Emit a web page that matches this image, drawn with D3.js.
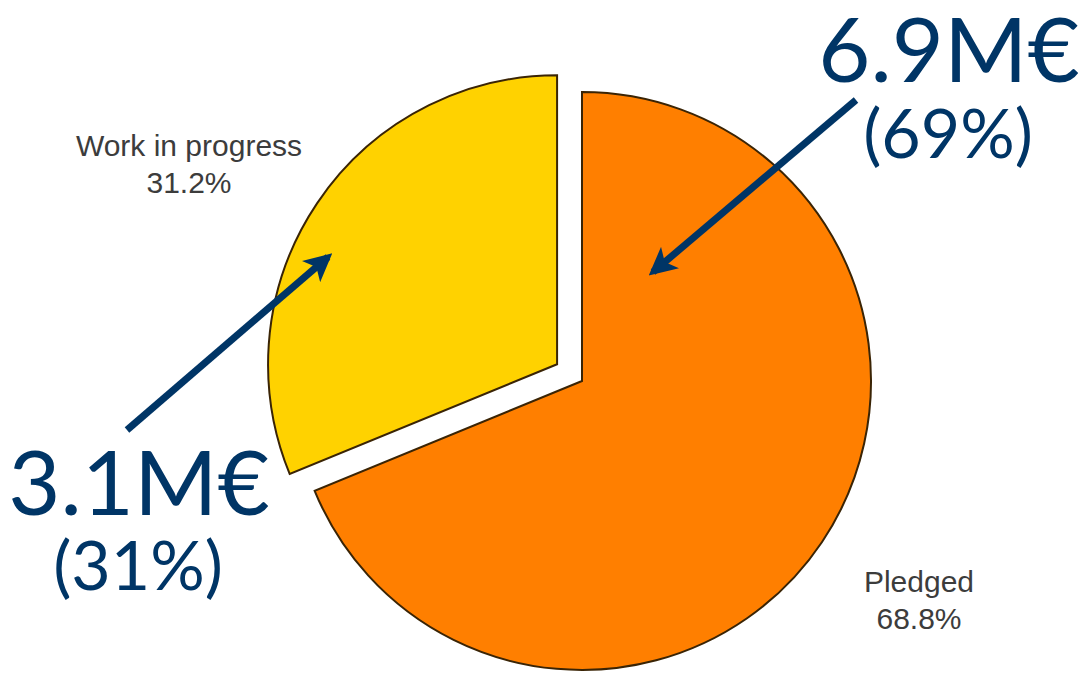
<!DOCTYPE html>
<html>
<head>
<meta charset="utf-8">
<script src="https://cdn.jsdelivr.net/npm/d3@7"></script>
<style>
  body { margin: 0; background: #fff; }
</style>
</head>
<body>
<script>
var categories = ['Pledged', 'Work in progress'],
    values = [68.8, 31.2],
    pctLabels = ['68.8%', '31.2%'],
    amounts = ['6.9M€', '3.1M€'],
    rounded = ['(69%)', '(31%)'],
    colors = ['#ff7f00', '#ffd200'],
    explode = [0, 30];

var width = 1078,
    height = 674,
    cx = 582,
    cy = 381,
    radius = 289;

var svg = d3.select('body').append('svg')
    .attr('width', width)
    .attr('height', height);

var pie = d3.pie().sort(null).value(function(d) { return d; });
var arcs = pie(values);
var arc = d3.arc().innerRadius(0).outerRadius(radius);

var g = svg.append('g')
    .attr('transform', 'translate(' + cx + ',' + cy + ')');

g.selectAll('path')
    .data(arcs)
    .enter()
    .append('path')
    .attr('d', arc)
    .attr('fill', function(d, i) { return colors[i]; })
    .attr('stroke', '#3a2405')
    .attr('stroke-width', 2)
    .attr('transform', function(d, i) {
        var a = (d.startAngle + d.endAngle) / 2;
        return 'translate(' + (Math.sin(a) * explode[i]) + ',' + (-Math.cos(a) * explode[i]) + ')';
    });

// small slice labels
var labelPos = [[919, 592], [189, 156]];
labelPos.forEach(function(p, i) {
    var t = svg.append('text')
        .attr('x', p[0])
        .attr('y', p[1])
        .attr('text-anchor', 'middle')
        .attr('font-family', 'Liberation Sans, Arial, sans-serif')
        .attr('font-size', 30)
        .attr('fill', '#3c3c3c');
    t.append('tspan').attr('x', p[0]).text(categories[i]);
    t.append('tspan').attr('x', p[0]).attr('dy', 37).text(pctLabels[i]);
});

// big annotations
var navy = '#003566';
var bigText = [
    {x: 949, y: 82, sx: 948, sy: 158},
    {x: 139, y: 515, sx: 138, sy: 590}
];
bigText.forEach(function(b, i) {
    svg.append('text')
        .attr('x', b.x).attr('y', b.y)
        .attr('text-anchor', 'middle')
        .attr('font-family', 'Lato, sans-serif')
        .attr('font-size', 90)
        .attr('fill', navy)
        .text(amounts[i]);
    svg.append('text')
        .attr('x', b.sx).attr('y', b.sy)
        .attr('text-anchor', 'middle')
        .attr('font-family', 'Lato, sans-serif')
        .attr('font-size', 68)
        .attr('fill', navy)
        .text(rounded[i]);
});

// arrows
svg.append('defs').append('marker')
    .attr('id', 'head')
    .attr('viewBox', '0 0 10 10')
    .attr('refX', 8)
    .attr('refY', 5)
    .attr('markerWidth', 4)
    .attr('markerHeight', 4)
    .attr('markerUnits', 'strokeWidth')
    .attr('orient', 'auto')
    .append('path')
    .attr('d', 'M0,0L10,5L0,10L2.5,5Z')
    .attr('fill', navy);

var arrows = [[856, 100, 653, 272], [127, 430, 328, 257]];
svg.selectAll('line.arrow')
    .data(arrows)
    .enter()
    .append('line')
    .attr('class', 'arrow')
    .attr('x1', function(d) { return d[0]; })
    .attr('y1', function(d) { return d[1]; })
    .attr('x2', function(d) { return d[2]; })
    .attr('y2', function(d) { return d[3]; })
    .attr('stroke', navy)
    .attr('stroke-width', 7)
    .attr('marker-end', 'url(#head)');
</script>
</body>
</html>
